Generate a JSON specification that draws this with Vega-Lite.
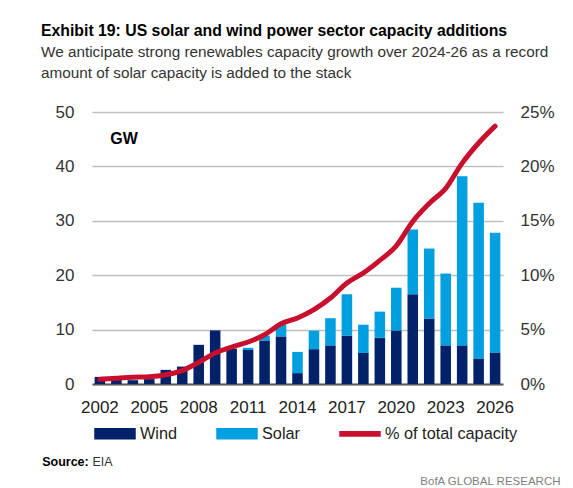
{
  "$schema": "https://vega.github.io/schema/vega-lite/v6.json",
  "autosize": {"type": "none"},
  "width": 411,
  "height": 272,
  "padding": {"left": 92, "top": 112, "right": 70, "bottom": 104},
  "background": "white",
  "title": {
    "text": "Exhibit 19: US solar and wind power sector capacity additions",
    "subtitle": ["We anticipate strong renewables capacity growth over 2024-26 as a record", "amount of solar capacity is added to the stack"],
    "anchor": "start",
    "frame": "group",
    "dx": -51,
    "offset": 21,
    "font": "'Liberation Sans', sans-serif",
    "fontSize": 15.8,
    "fontWeight": "bold",
    "color": "#000000",
    "subtitleFont": "'Liberation Sans', sans-serif",
    "subtitleFontSize": 15.3,
    "subtitleColor": "#333333",
    "subtitleLineHeight": 21,
    "subtitlePadding": 5
  },
  "datasets": {
    "bars": [
      {"year": 2002, "series": "Wind", "gw": 1.3}, {"year": 2002, "series": "Solar", "gw": 0},
      {"year": 2003, "series": "Wind", "gw": 1.0}, {"year": 2003, "series": "Solar", "gw": 0},
      {"year": 2004, "series": "Wind", "gw": 0.7}, {"year": 2004, "series": "Solar", "gw": 0},
      {"year": 2005, "series": "Wind", "gw": 0.9}, {"year": 2005, "series": "Solar", "gw": 0},
      {"year": 2006, "series": "Wind", "gw": 2.6}, {"year": 2006, "series": "Solar", "gw": 0},
      {"year": 2007, "series": "Wind", "gw": 3.2}, {"year": 2007, "series": "Solar", "gw": 0},
      {"year": 2008, "series": "Wind", "gw": 7.2}, {"year": 2008, "series": "Solar", "gw": 0},
      {"year": 2009, "series": "Wind", "gw": 9.85}, {"year": 2009, "series": "Solar", "gw": 0},
      {"year": 2010, "series": "Wind", "gw": 6.5}, {"year": 2010, "series": "Solar", "gw": 0},
      {"year": 2011, "series": "Wind", "gw": 6.25}, {"year": 2011, "series": "Solar", "gw": 0.4},
      {"year": 2012, "series": "Wind", "gw": 8.0}, {"year": 2012, "series": "Solar", "gw": 0.9},
      {"year": 2013, "series": "Wind", "gw": 8.75}, {"year": 2013, "series": "Solar", "gw": 2.15},
      {"year": 2014, "series": "Wind", "gw": 2.0}, {"year": 2014, "series": "Solar", "gw": 3.9},
      {"year": 2015, "series": "Wind", "gw": 6.4}, {"year": 2015, "series": "Solar", "gw": 3.4},
      {"year": 2016, "series": "Wind", "gw": 7.1}, {"year": 2016, "series": "Solar", "gw": 5.0},
      {"year": 2017, "series": "Wind", "gw": 8.9}, {"year": 2017, "series": "Solar", "gw": 7.6},
      {"year": 2018, "series": "Wind", "gw": 5.7}, {"year": 2018, "series": "Solar", "gw": 5.2},
      {"year": 2019, "series": "Wind", "gw": 8.5}, {"year": 2019, "series": "Solar", "gw": 4.8},
      {"year": 2020, "series": "Wind", "gw": 9.85}, {"year": 2020, "series": "Solar", "gw": 7.85},
      {"year": 2021, "series": "Wind", "gw": 16.5}, {"year": 2021, "series": "Solar", "gw": 11.9},
      {"year": 2022, "series": "Wind", "gw": 12.05}, {"year": 2022, "series": "Solar", "gw": 12.85},
      {"year": 2023, "series": "Wind", "gw": 7.1}, {"year": 2023, "series": "Solar", "gw": 13.2},
      {"year": 2024, "series": "Wind", "gw": 7.1}, {"year": 2024, "series": "Solar", "gw": 31.1},
      {"year": 2025, "series": "Wind", "gw": 4.7}, {"year": 2025, "series": "Solar", "gw": 28.6},
      {"year": 2026, "series": "Wind", "gw": 5.8}, {"year": 2026, "series": "Solar", "gw": 22.0}
    ],
    "share": [
      {"year": 2002, "pct": 0.43}, {"year": 2003, "pct": 0.53}, {"year": 2004, "pct": 0.62},
      {"year": 2005, "pct": 0.67}, {"year": 2006, "pct": 0.85}, {"year": 2007, "pct": 1.23},
      {"year": 2008, "pct": 1.99}, {"year": 2009, "pct": 2.85}, {"year": 2010, "pct": 3.4},
      {"year": 2011, "pct": 3.86}, {"year": 2012, "pct": 4.53}, {"year": 2013, "pct": 5.54},
      {"year": 2014, "pct": 6.07}, {"year": 2015, "pct": 6.83}, {"year": 2016, "pct": 7.9},
      {"year": 2017, "pct": 9.28}, {"year": 2018, "pct": 10.2}, {"year": 2019, "pct": 11.36},
      {"year": 2020, "pct": 12.7}, {"year": 2021, "pct": 14.94}, {"year": 2022, "pct": 16.6},
      {"year": 2023, "pct": 17.98}, {"year": 2024, "pct": 20.3}, {"year": 2025, "pct": 22.15},
      {"year": 2026, "pct": 23.7}
    ]
  },
  "layer": [
    {
      "data": {"name": "bars"},
      "transform": [{"calculate": "datum.series === 'Wind' ? 0 : 1", "as": "stackOrder"}],
      "mark": {"type": "bar"},
      "encoding": {
        "x": {
          "field": "year", "type": "ordinal",
          "scale": {"paddingInner": 0.36, "paddingOuter": 0.16},
          "axis": {
            "values": [2002, 2005, 2008, 2011, 2014, 2017, 2020, 2023, 2026],
            "labelAngle": 0, "ticks": false, "domain": true, "domainColor": "#595959", "domainWidth": 2,
            "labelPadding": 15, "labelFontSize": 17, "labelColor": "#222222",
            "labelFont": "'Liberation Sans', sans-serif",
            "title": "Source:", "titleX": -50.3, "titleY": 81, "titleAlign": "left", "titleBaseline": "alphabetic",
            "titleFontWeight": "bold", "titleFontSize": 12.5, "titleColor": "#000000",
            "titleFont": "'Liberation Sans', sans-serif"
          }
        },
        "y": {
          "field": "gw", "type": "quantitative", "stack": "zero",
          "scale": {"domain": [0, 50], "nice": false},
          "axis": {
            "values": [0, 10, 20, 30, 40, 50], "grid": true, "gridColor": "#bfbfbf", "gridWidth": 1.5,
            "domain": false, "ticks": false, "labelPadding": 18, "labelFontSize": 17, "labelColor": "#333333",
            "labelFont": "'Liberation Sans', sans-serif",
            "title": "GW", "titleX": 31.5, "titleY": 26, "titleAngle": 0, "titleAlign": "center", "titleBaseline": "middle",
            "titleFontWeight": "bold", "titleFontSize": 16, "titleColor": "#000000",
            "titleFont": "'Liberation Sans', sans-serif"
          }
        },
        "color": {
          "field": "series", "type": "nominal",
          "scale": {"domain": ["Wind", "Solar", "% of total capacity"], "range": ["#012169", "#009FDF", "#C8102E"]},
          "legend": {
            "orient": "none", "legendX": 2, "legendY": 300.5, "direction": "horizontal", "columns": 3,
            "title": null, "padding": 0, "columnPadding": 36, "labelOffset": 4, "symbolSize": 1600,
            "labelFontSize": 16.3, "labelColor": "#222222", "labelFont": "'Liberation Sans', sans-serif",
            "encode": {
              "symbols": {
                "update": {
                  "shape": {"signal": "datum.value === '% of total capacity' ? 'M-1,-0.11H1V0.11H-1Z' : 'M-1,-0.25H1V0.25H-1Z'"},
                  "fill": {"scale": "color", "field": "value"},
                  "stroke": {"value": "transparent"},
                  "opacity": {"value": 1}
                }
              }
            }
          }
        },
        "order": {"field": "stackOrder", "type": "quantitative"}
      }
    },
    {
      "data": {"name": "share"},
      "mark": {"type": "line", "strokeWidth": 5, "strokeCap": "round", "interpolate": "monotone"},
      "encoding": {
        "x": {
          "field": "year", "type": "ordinal",
          "axis": {
            "orient": "top", "labels": false, "ticks": false, "domain": false, "grid": false,
            "title": "EIA", "titleX": 0, "titleY": 353, "titleAlign": "left", "titleBaseline": "alphabetic",
            "titleFontWeight": "normal", "titleFontSize": 12.5, "titleColor": "#333333",
            "titleFont": "'Liberation Sans', sans-serif"
          }
        },
        "y": {
          "field": "pct", "type": "quantitative",
          "scale": {"domain": [0, 25], "nice": false},
          "axis": {
            "orient": "right", "values": [0, 5, 10, 15, 20, 25], "labelExpr": "datum.value + '%'",
            "grid": false, "domain": false, "ticks": false, "labelPadding": 17, "labelFontSize": 17,
            "labelColor": "#333333", "labelFont": "'Liberation Sans', sans-serif",
            "title": "BofA GLOBAL RESEARCH", "titleX": 57, "titleY": 372, "titleAngle": 0, "titleAlign": "right",
            "titleBaseline": "alphabetic", "titleFontWeight": "normal", "titleFontSize": 11.5, "titleColor": "#808080",
            "titleFont": "'Liberation Sans', sans-serif"
          }
        },
        "color": {"datum": "% of total capacity", "type": "nominal"}
      }
    }
  ],
  "resolve": {"scale": {"y": "independent"}, "axis": {"x": "independent"}},
  "config": {"view": {"stroke": null}, "font": "'Liberation Sans', sans-serif"}
}
